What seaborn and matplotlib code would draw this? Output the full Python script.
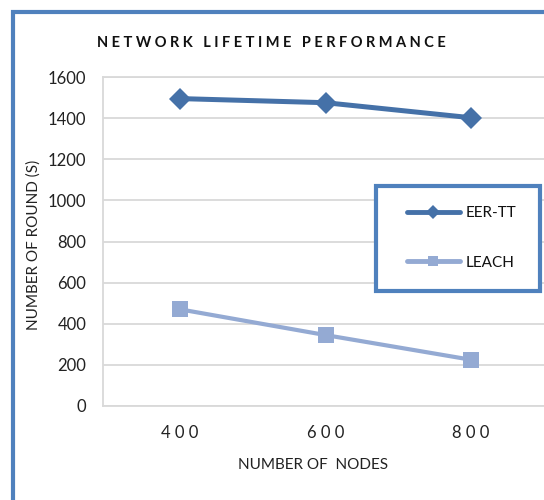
import pandas as pd
import matplotlib.pyplot as plt
import seaborn as sns
from matplotlib.patches import Rectangle

# chart values
nodes = ['400', '600', '800']
eer_tt = [1495, 1475, 1402]
leach = [470, 345, 225]
x_labels = ['4 0 0', '6 0 0', '8 0 0']
y_ticks = [0, 200, 400, 600, 800, 1000, 1200, 1400, 1600]

df = pd.concat([
    pd.DataFrame({'Nodes': nodes, 'Rounds': eer_tt, 'Protocol': 'EER-TT'}),
    pd.DataFrame({'Nodes': nodes, 'Rounds': leach, 'Protocol': 'LEACH'}),
], ignore_index=True)

sns.set_style('white')
plt.rcParams['font.family'] = ['Lato', 'DejaVu Sans']

fig = plt.figure(figsize=(5.44, 5.0), dpi=100)
ax = fig.add_axes([103 / 544, 1 - 406 / 500, 445 / 544, 329 / 500])

palette = {'EER-TT': '#4571A8', 'LEACH': '#94AAD3'}
sns.lineplot(data=df, x='Nodes', y='Rounds', hue='Protocol', style='Protocol',
             markers={'EER-TT': 'D', 'LEACH': 's'}, dashes=False,
             palette=palette, linewidth=3.5, markersize=11,
             markeredgewidth=0, ax=ax)
for line, lw, ms in zip(ax.lines[:2], [3.6, 3.0], [11, 12]):
    line.set_linewidth(lw)
    line.set_markersize(ms)

ax.set_ylim(0, 1600)
ax.set_yticks(y_ticks)
ax.set_xlim(-0.53, 2.53)
ax.set_xticks(range(len(nodes)))
ax.set_xticklabels(x_labels)
ax.tick_params(axis='both', length=0, labelsize=12, colors='#222222')
ax.tick_params(axis='x', pad=14)
ax.tick_params(axis='y', pad=12)
ax.yaxis.grid(True, color='#D9D9D9', linewidth=1.3)
for s in ['left', 'top', 'bottom', 'right']:
    ax.spines[s].set_color('#D9D9D9')
    ax.spines[s].set_linewidth(1.3)

ax.set_xlabel('NUMBER OF  NODES', fontsize=11, color='#222222')
ax.set_ylabel('NUMBER OF ROUND (S)', fontsize=11, color='#222222')
ax.xaxis.set_label_coords((313 - 103) / 445, -(465 - 406) / 329 + 0.02)
ax.yaxis.set_label_coords((41 - 103) / 445, (406 - 245) / 329)

title = 'NETWORK LIFETIME PERFORMANCE'
spaced = '   '.join(' '.join(w) for w in title.split(' '))
fig.text(271 / 544, 1 - 43 / 500, spaced, ha='center', va='center',
         fontsize=10.5, fontweight='bold', color='#111111')

handles, labels = ax.get_legend_handles_labels()
leg = ax.legend(handles, labels, loc='center left',
                bbox_to_anchor=(407 / 544, 1 - 238 / 500),
                bbox_transform=fig.transFigure, borderaxespad=0,
                borderpad=0, fontsize=11, frameon=False, markerscale=0.65,
                labelspacing=2.3, handlelength=3.45, handletextpad=0.4)
leg.set_zorder(6)
for t in leg.get_texts():
    t.set_color('#111111')

# legend box
ax.add_patch(Rectangle((376 / 544, 1 - 291 / 500), 164 / 544, 105 / 500,
                       transform=fig.transFigure, facecolor='white',
                       edgecolor='#4F81BD', linewidth=3, zorder=5,
                       clip_on=False))

# outer chart frame (only left and top edges visible in the crop)
fig.patches.append(Rectangle((13 / 544, -0.1), 1.2, 1 - 12 / 500 + 0.1,
                             transform=fig.transFigure, fill=False,
                             edgecolor='#4F81BD', linewidth=3, zorder=10))

fig.savefig('out.png', dpi=100)
